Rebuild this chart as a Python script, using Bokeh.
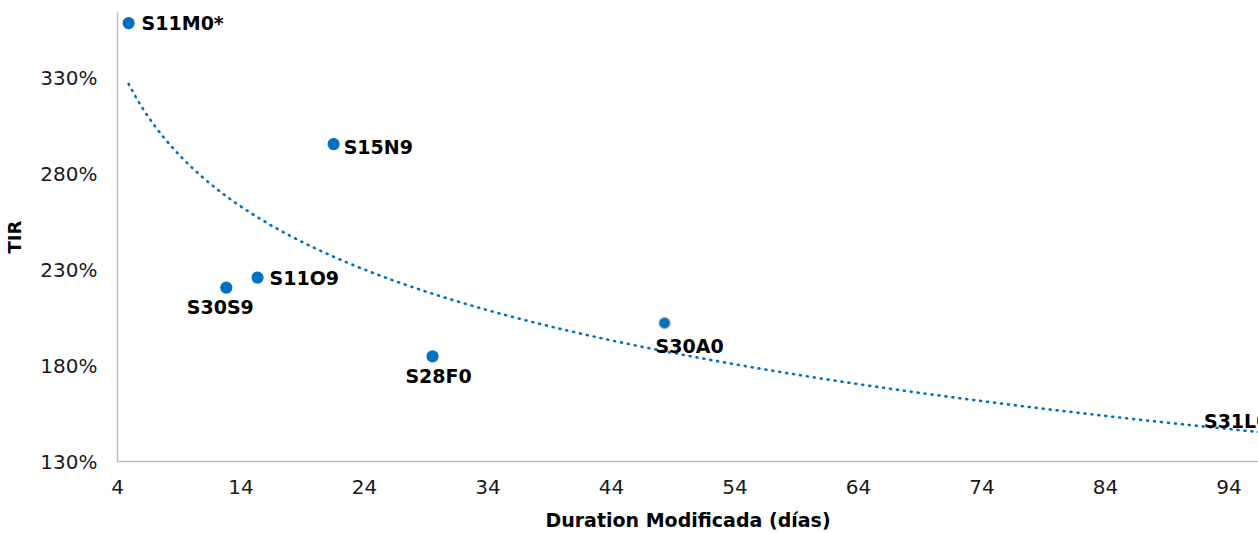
import numpy as np
from bokeh.plotting import figure
from bokeh.models import ColumnDataSource, Range1d, FixedTicker, NumeralTickFormatter
from bokeh.embed import file_html
from bokeh.resources import INLINE
from bokeh.core.properties import value

# ---- data ----
names = ["S11M0*", "S15N9", "S11O9", "S30S9", "S28F0", "S30A0", "S31L0"]
duration = [4.90, 21.50, 15.34, 12.81, 29.51, 48.30, 98.0]
tir = [3.586, 2.955, 2.259, 2.207, 1.848, 2.022, 1.510]
x_ticks = [4, 14, 24, 34, 44, 54, 64, 74, 84, 94]
y_ticks = [1.30, 1.80, 2.30, 2.80, 3.30]

# ---- label styling (pixel offsets / alignment) ----
label_align = ["left", "left", "left", "center", "center", "center", "right"]
label_dx = [13, 10, 12, -6, 6, 25, -9]
label_dy = [0, 3, 0, 19, 20, 23, 0]
marker_line = ["#0070C0"] * len(names)
marker_line[names.index("S30A0")] = "#A0A0A0"

BLUE = "#0070C0"
FONT = "DejaVu Sans"

W, H = 1258, 533
BL, BR, BT, BB = 117, 0, 12, 71
frame_w = W - BL - BR
frame_h = H - BT - BB
x_end = 4 + frame_w / 12.35
y_end = 1.30 + frame_h / 192.2

p = figure(width=W, height=H, output_backend="svg", toolbar_location=None,
           x_range=Range1d(4, x_end), y_range=Range1d(1.30, y_end),
           min_border_left=BL, min_border_right=BR, min_border_top=BT,
           min_border_bottom=BB)
p.outline_line_color = None
p.xgrid.visible = False
p.ygrid.visible = False
p.background_fill_color = "white"
p.border_fill_color = "white"

# logarithmic trend line fitted to the scatter data (as Excel's trendline)
b, a = np.polyfit(np.log(duration), tir, 1)
tx = np.linspace(min(duration), max(duration), 400)
ty = a + b * np.log(tx)
p.line(tx, ty, line_color=BLUE, line_width=2.6, line_dash="1 6", line_cap="round")

src = ColumnDataSource(dict(x=duration, y=tir, name=names, align=label_align,
                            dx=label_dx, dy=label_dy, lc=marker_line))
p.scatter("x", "y", source=src, size=11, fill_color=BLUE, line_color="lc", line_width=1.2)
p.text("x", "y", text="name", source=src, x_offset="dx", y_offset="dy",
       text_align="align", text_baseline="middle",
       text_font=value(FONT), text_font_style="bold", text_font_size="19px",
       text_color="#000000")

for ax in (p.xaxis[0], p.yaxis[0]):
    ax.axis_line_color = "#BFBFBF"
    ax.axis_line_width = 1.5
    ax.major_tick_line_color = None
    ax.minor_tick_line_color = None
    ax.major_tick_out = 0
    ax.major_tick_in = 0
    ax.minor_tick_out = 0
    ax.major_label_text_font = FONT
    ax.major_label_text_font_size = "20px"
    ax.major_label_text_color = "#1a1a1a"
    ax.axis_label_text_font = FONT
    ax.axis_label_text_font_style = "bold"
    ax.axis_label_text_font_size = "19px"
    ax.axis_label_text_color = "#000000"

p.xaxis.ticker = FixedTicker(ticks=x_ticks)
p.yaxis.ticker = FixedTicker(ticks=y_ticks)
p.yaxis.formatter = NumeralTickFormatter(format="0%")
p.xaxis.axis_label = "Duration Modificada (días)"
p.yaxis.axis_label = "TIR"
p.yaxis.axis_label_text_font_size = "18px"
p.xaxis.major_label_standoff = 18
p.xaxis.axis_label_standoff = 12
p.yaxis.major_label_standoff = 20
p.yaxis.axis_label_standoff = 12

open("out.html", "w").write(file_html(p, INLINE))
